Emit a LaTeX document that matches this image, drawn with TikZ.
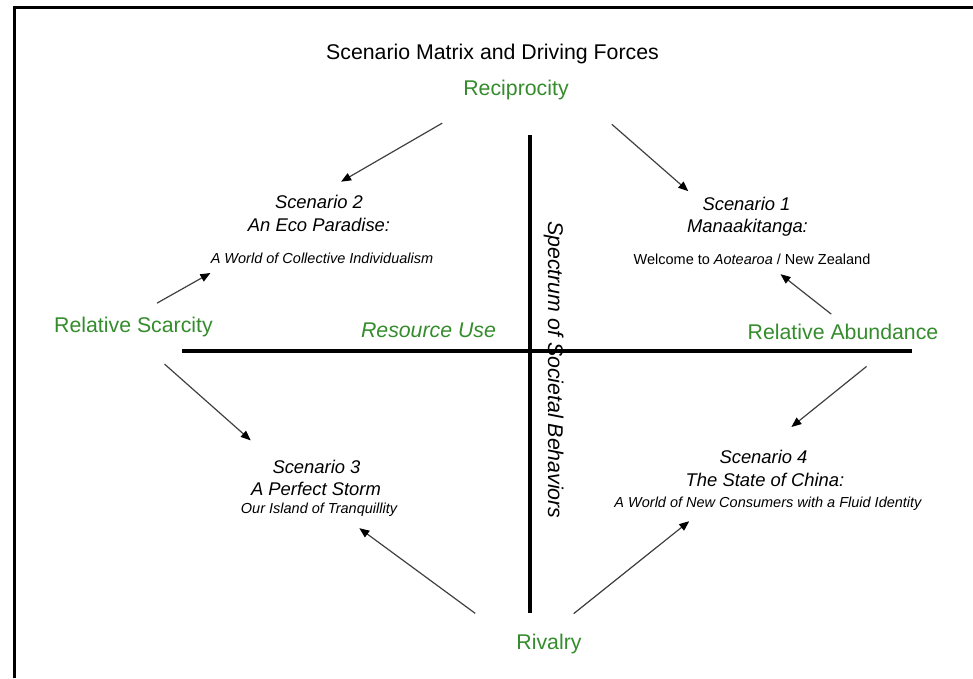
\documentclass[tikz,border=0pt]{standalone}
\usepackage{fontspec}
\setmainfont{Liberation Sans}
\usetikzlibrary{arrows.meta}

\definecolor{forcegreen}{RGB}{52,140,44}
\definecolor{arrowgray}{RGB}{64,64,64}

\tikzset{
  force/.style={font=\fontsize{21.3}{25}\selectfont, text=forcegreen, inner sep=0pt, anchor=base},
  scen/.style={font=\itshape\fontsize{18.4}{22}\selectfont, inner sep=0pt, anchor=base},
  scensub/.style={font=\itshape\fontsize{14.5}{17}\selectfont, inner sep=0pt, anchor=base},
  axis/.style={line width=3.8pt},
  push/.style={draw=arrowgray, line width=1.2pt, -{Triangle[length=10pt,width=8pt,color=black,fill=black]}},
}

\begin{document}
\begin{tikzpicture}[x=1pt,y=-1pt]
    \useasboundingbox (0,0) rectangle (973,678);
    \draw[line width=2.8pt] (14.3,678) -- (14.3,7.2) -- (973,7.2);

    % axes
    \coordinate (west) at (182,351);
    \coordinate (east) at (912,351);
    \coordinate (top) at (530,135);
    \coordinate (bottom) at (530,613);
    \draw[axis] (west) -- (east);
    \draw[axis] (top) -- (bottom);

    \node[font=\fontsize{21.3}{25}\selectfont, inner sep=0pt, anchor=base] (title) at (492.5,59.3) {Scenario Matrix and Driving Forces};

    \node[force] (recip) at (516,95) {Reciprocity};
    \node[force] (scarce) at (133.5,332) {Relative Scarcity};
    \node[force] (abund) at (843,339) {Relative Abundance};
    \node[force] (rival) at (549,649) {Rivalry};
    \node[force, font=\itshape\fontsize{21.3}{25}\selectfont] (use) at (428.5,337) {Resource Use};
    \node[inner sep=0pt, anchor=base, rotate=-90, font=\itshape\fontsize{21.3}{25}\selectfont] (spectrum) at (548,370) {Spectrum of Societal Behaviors};

    \node[scen] (s2a) at (319,208) {Scenario 2};
    \node[scen] (s2b) at (319,231) {An Eco Paradise:};
    \node[scensub] (s2c) at (322,263) {A World of Collective Individualism};

    \node[scen] (s1a) at (746.5,210) {Scenario 1};
    \node[scen] (s1b) at (747.5,232) {Manaakitanga:};
    \node[scensub, font=\fontsize{14.5}{17}\selectfont] (s1c) at (752,264) {Welcome to \textit{Aotearoa} / New Zealand};

    \node[scen] (s3a) at (316.5,473) {Scenario 3};
    \node[scen] (s3b) at (316,495) {A Perfect Storm};
    \node[scensub] (s3c) at (319,513) {Our Island of Tranquillity};

    \node[scen] (s4a) at (763.5,463) {Scenario 4};
    \node[scen] (s4b) at (765,486) {The State of China:};
    \node[scensub] (s4c) at (768,507) {A World of New Consumers with a Fluid Identity};

    \draw[push, shorten <=47pt, shorten >=25.5pt] (recip.197.5) -- (s2a.north);
    \draw[push, shorten <=57pt, shorten >=18.6pt] (recip.3) -- (s1a.west);
    \draw[push, shorten <=27pt, shorten >=19.7pt] (scarce.north) -- ([xshift=17pt]s2c.south west);
    \draw[push, shorten <=41.5pt, shorten >=28.8pt] (scarce.south) -- (s3a.north west);
    \draw[push, shorten <=15pt, shorten >=15.9pt] (abund.north) -- ([xshift=16pt]s1c.south);
    \draw[push, shorten <=43pt, shorten >=35.8pt] (abund.-8) -- (s4a.north);
    \draw[push, shorten <=50.9pt, shorten >=20.2pt] (rival.west) -- ([xshift=24pt]s3c.south);
    \draw[push, shorten <=31.7pt, shorten >=17.6pt] (rival.north) -- ([xshift=-65pt]s4c.south);
\end{tikzpicture}
\end{document}
